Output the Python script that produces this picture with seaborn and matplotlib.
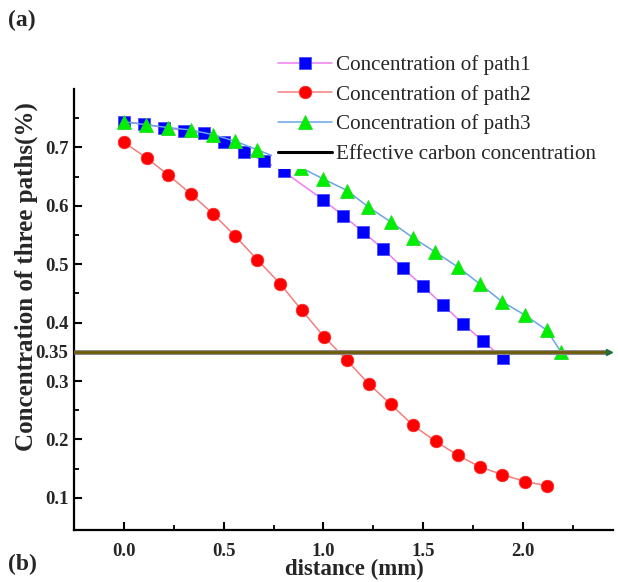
import numpy as np
import pandas as pd
import matplotlib
matplotlib.use("Agg")
import matplotlib.pyplot as plt
import seaborn as sns
from matplotlib.ticker import FixedLocator, FuncFormatter

sns.set_style("white")
plt.rcParams['font.family'] = ['Liberation Serif', 'DejaVu Serif']

# ---- data ----
path1_x = [0.0, 0.1, 0.2, 0.3, 0.4, 0.5, 0.6, 0.7, 0.8,
           1.0, 1.1, 1.2, 1.3, 1.4, 1.5, 1.6, 1.7, 1.8, 1.9]
path1_y = [0.744, 0.740, 0.734, 0.729, 0.724, 0.710, 0.693, 0.677, 0.659,
           0.610, 0.583, 0.555, 0.526, 0.493, 0.462, 0.430, 0.398, 0.368, 0.339]

path2_x = [0.0, 0.114, 0.222, 0.334, 0.448, 0.556, 0.668, 0.782, 0.892, 1.003,
           1.116, 1.228, 1.338, 1.45, 1.562, 1.673, 1.784, 1.896, 2.01, 2.119]
path2_y = [0.709, 0.682, 0.653, 0.621, 0.586, 0.549, 0.508, 0.467, 0.421, 0.376,
           0.336, 0.295, 0.260, 0.224, 0.197, 0.173, 0.153, 0.140, 0.128, 0.121]

path3_x = [0.0, 0.11, 0.222, 0.334, 0.446, 0.556, 0.668, 0.78, 0.89, 1.0,
           1.12, 1.225, 1.34, 1.45, 1.56, 1.675, 1.785, 1.895, 2.01, 2.12, 2.19]
path3_y = [0.744, 0.739, 0.734, 0.730, 0.722, 0.711, 0.696, 0.681, 0.665, 0.646,
           0.626, 0.598, 0.572, 0.545, 0.521, 0.495, 0.466, 0.436, 0.413, 0.387, 0.350]

effective_x = [-0.25, 2.43]
effective_y = [0.35, 0.35]

labels = ["Concentration of path1", "Concentration of path2",
          "Concentration of path3", "Effective carbon concentration"]

y_major = [0.1, 0.2, 0.3, 0.35, 0.4, 0.5, 0.6, 0.7]
y_minor = [0.15, 0.25, 0.45, 0.55, 0.65, 0.75]
x_major = [0.0, 0.5, 1.0, 1.5, 2.0]
x_minor = [0.25, 0.75, 1.25, 1.75, 2.25]

# ---- figure ----
fig = plt.figure(figsize=(6.18, 5.82), dpi=100)
ax = fig.add_axes([0.1197, 0.0893, 0.8719, 0.7577])

sns.lineplot(x=path1_x, y=path1_y, ax=ax, color='#f07cf0', lw=1.1, marker='s',
             markersize=8, markerfacecolor='#0000ff', markeredgecolor='#4a4aff',
             markeredgewidth=0.6, label=labels[0], sort=False)
sns.lineplot(x=path2_x, y=path2_y, ax=ax, color='#f27f7f', lw=1.1, marker='o',
             markersize=9, markerfacecolor='#ff0000', markeredgecolor='#ff2a2a',
             markeredgewidth=0.6, label=labels[1], sort=False)
sns.lineplot(x=path3_x, y=path3_y, ax=ax, color='#6aa4e6', lw=1.1, marker='^',
             markersize=10, markerfacecolor='#00ee00', markeredgecolor='#22dd22',
             markeredgewidth=0.6, label=labels[2], sort=False)
# effective carbon line (gray border + olive core)
ax.plot(effective_x, effective_y, color='#8a8a8a', lw=3.6, zorder=4,
        solid_capstyle='butt')
sns.lineplot(x=effective_x, y=effective_y, ax=ax, color='#6e5c08', lw=2.0,
             label=labels[3], sort=False, zorder=4)
ax.plot([effective_x[-1]], [effective_y[-1]], marker='>', color='#1f6f3f',
        markersize=4, zorder=5)

ax.set_xlim(-0.25, 2.45)
ax.set_ylim(0.045, 0.80)

ax.yaxis.set_major_locator(FixedLocator(y_major))
ax.yaxis.set_minor_locator(FixedLocator(y_minor))
ax.yaxis.set_major_formatter(FuncFormatter(
    lambda v, p: '0.35' if abs(v - 0.35) < 1e-6 else '%.1f' % v))
ax.xaxis.set_major_locator(FixedLocator(x_major))
ax.xaxis.set_minor_locator(FixedLocator(x_minor))
ax.xaxis.set_major_formatter(FuncFormatter(lambda v, p: '%.1f' % v))

for s in ['top', 'right']:
    ax.spines[s].set_visible(False)
for s in ['left', 'bottom']:
    ax.spines[s].set_linewidth(1.6)
    ax.spines[s].set_color('black')

ax.tick_params(which='both', left=True, bottom=True, top=False, right=False)
ax.tick_params(which='major', direction='in', length=6, width=1.5,
               labelsize=13.5, color='black')
ax.tick_params(which='minor', direction='in', length=3.5, width=1.3,
               color='black')
ax.tick_params(axis='y', which='major', pad=4)
ax.tick_params(axis='x', which='major', pad=9)
for t in ax.get_xticklabels() + ax.get_yticklabels():
    t.set_fontweight('bold')

ax.set_xlabel('distance (mm)', fontsize=16.5, fontweight='bold')
ax.set_ylabel('Concentration of three paths(%)', fontsize=18, fontweight='bold')
ax.xaxis.set_label_coords(0.52, -0.066)
ax.yaxis.set_label_coords(-0.067, 0.574)

leg = ax.legend(loc='upper left', bbox_to_anchor=(0.4405, 0.914),
                bbox_transform=fig.transFigure, frameon=True, fancybox=False,
                facecolor='white', edgecolor='none', framealpha=1.0,
                fontsize=15.2, handlelength=2.6, handletextpad=0.15,
                borderpad=0.25, borderaxespad=0, labelspacing=0.46)
leg.set_zorder(6)
leg_lines = leg.get_lines()
leg_lines[3].set_color('black')
leg_lines[3].set_linewidth(2.2)

fig.text(0.013, 0.965, '(a)', fontsize=17, fontweight='bold', va='center')
fig.text(0.013, 0.03, '(b)', fontsize=17, fontweight='bold', va='center')

fig.savefig('out.png', dpi=100, facecolor='white')
